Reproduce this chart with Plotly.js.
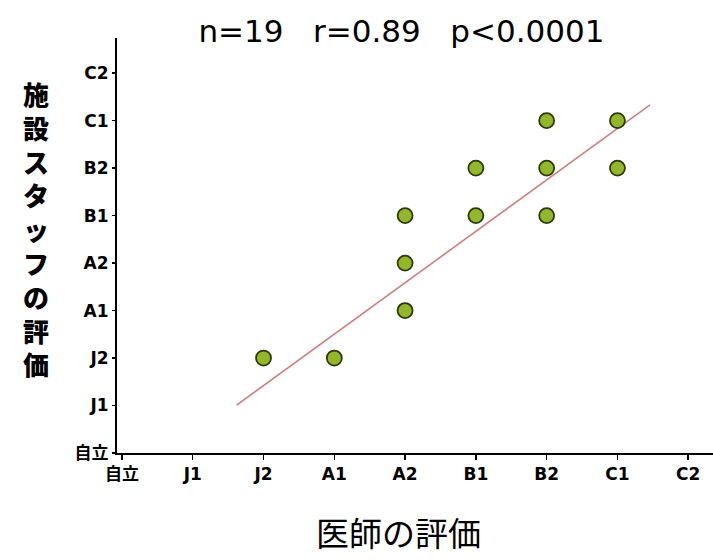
<!DOCTYPE html>
<html>
<head>
<meta charset="utf-8">
<script src="https://cdn.plot.ly/plotly-3.0.1.min.js"></script>
<style>html,body{margin:0;padding:0;background:#fff;}</style>
</head>
<body>
<div id="chart" style="width:713px;height:560px;"></div>
<script>
// Rating scale (category labels, shared by both axes)
const levels = ["自立", "J1", "J2", "A1", "A2", "B1", "B2", "C1", "C2"];

// Visible points: physician rating (x) vs facility-staff rating (y)
const doctorRating = ["J2", "A1", "A2", "A2", "A2", "B1", "B1", "B2", "B2", "B2", "C1", "C1"];
const staffRating  = ["J2", "J2", "A1", "A2", "B1", "B1", "B2", "B1", "B2", "C1", "C1", "B2"];

// Regression line endpoints (in scale units)
const fitX = [1.62, 7.46];
const fitY = [1.01, 7.33];

const titleText = "n=19&nbsp;&nbsp;&nbsp;r=0.89&nbsp;&nbsp;&nbsp;p&lt;0.0001";
const xTitle = "医師の評価";
const yTitle = "施設スタッフの評価";

const idx = v => levels.indexOf(v);
const tickVals = levels.map((_, i) => i);

const traces = [
  {
    x: fitX, y: fitY, type: "scatter", mode: "lines",
    line: {color: "#CD7F7F", width: 1.6},
    hoverinfo: "skip", showlegend: false
  },
  {
    x: doctorRating.map(idx), y: staffRating.map(idx),
    type: "scatter", mode: "markers",
    marker: {size: 15, color: "#93B62A", line: {color: "#2C3A0C", width: 1.8}},
    showlegend: false
  }
];

const tickFont = {family: "DejaVu Sans, 'Noto Sans CJK JP', sans-serif", size: 17, color: "#000", weight: "bold"};

const layout = {
  width: 713, height: 560,
  margin: {l: 117, r: 0, t: 38, b: 107},
  paper_bgcolor: "#fff", plot_bgcolor: "#fff",
  showlegend: false,
  title: {
    text: titleText,
    font: {family: "DejaVu Sans, sans-serif", size: 31, color: "#000"},
    xref: "container", yref: "container",
    x: 0.563, xanchor: "center", y: 1 - 31/560, yanchor: "middle"
  },
  xaxis: {
    range: [-0.07, 8.35], tickmode: "array", tickvals: tickVals, ticktext: levels,
    showgrid: false, zeroline: false, showline: true, linecolor: "#000", linewidth: 2,
    ticks: "outside", ticklen: 5, tickcolor: "#000", tickwidth: 1.5,
    tickfont: tickFont, fixedrange: true
  },
  yaxis: {
    range: [0, 8.74], tickmode: "array", tickvals: tickVals, ticktext: levels,
    showgrid: false, zeroline: false, showline: true, linecolor: "#000", linewidth: 2,
    ticks: "outside", ticklen: 3, tickcolor: "#000", tickwidth: 1.5,
    tickfont: tickFont, fixedrange: true
  },
  annotations: [
    {
      text: yTitle.split("").join("<br>"),
      xref: "paper", yref: "paper", x: -0.136, y: 0.542,
      xanchor: "center", yanchor: "middle", showarrow: false,
      font: {family: "'Noto Sans CJK JP', sans-serif", size: 26, color: "#000", weight: 900}
    },
    {
      text: xTitle,
      xref: "paper", yref: "paper", x: 0.4715, y: -0.19,
      xanchor: "center", yanchor: "middle", showarrow: false,
      font: {family: "'Noto Sans CJK JP', sans-serif", size: 33, color: "#000"}
    }
  ]
};

Plotly.newPlot("chart", traces, layout, {displayModeBar: false, staticPlot: true});
</script>
</body>
</html>
